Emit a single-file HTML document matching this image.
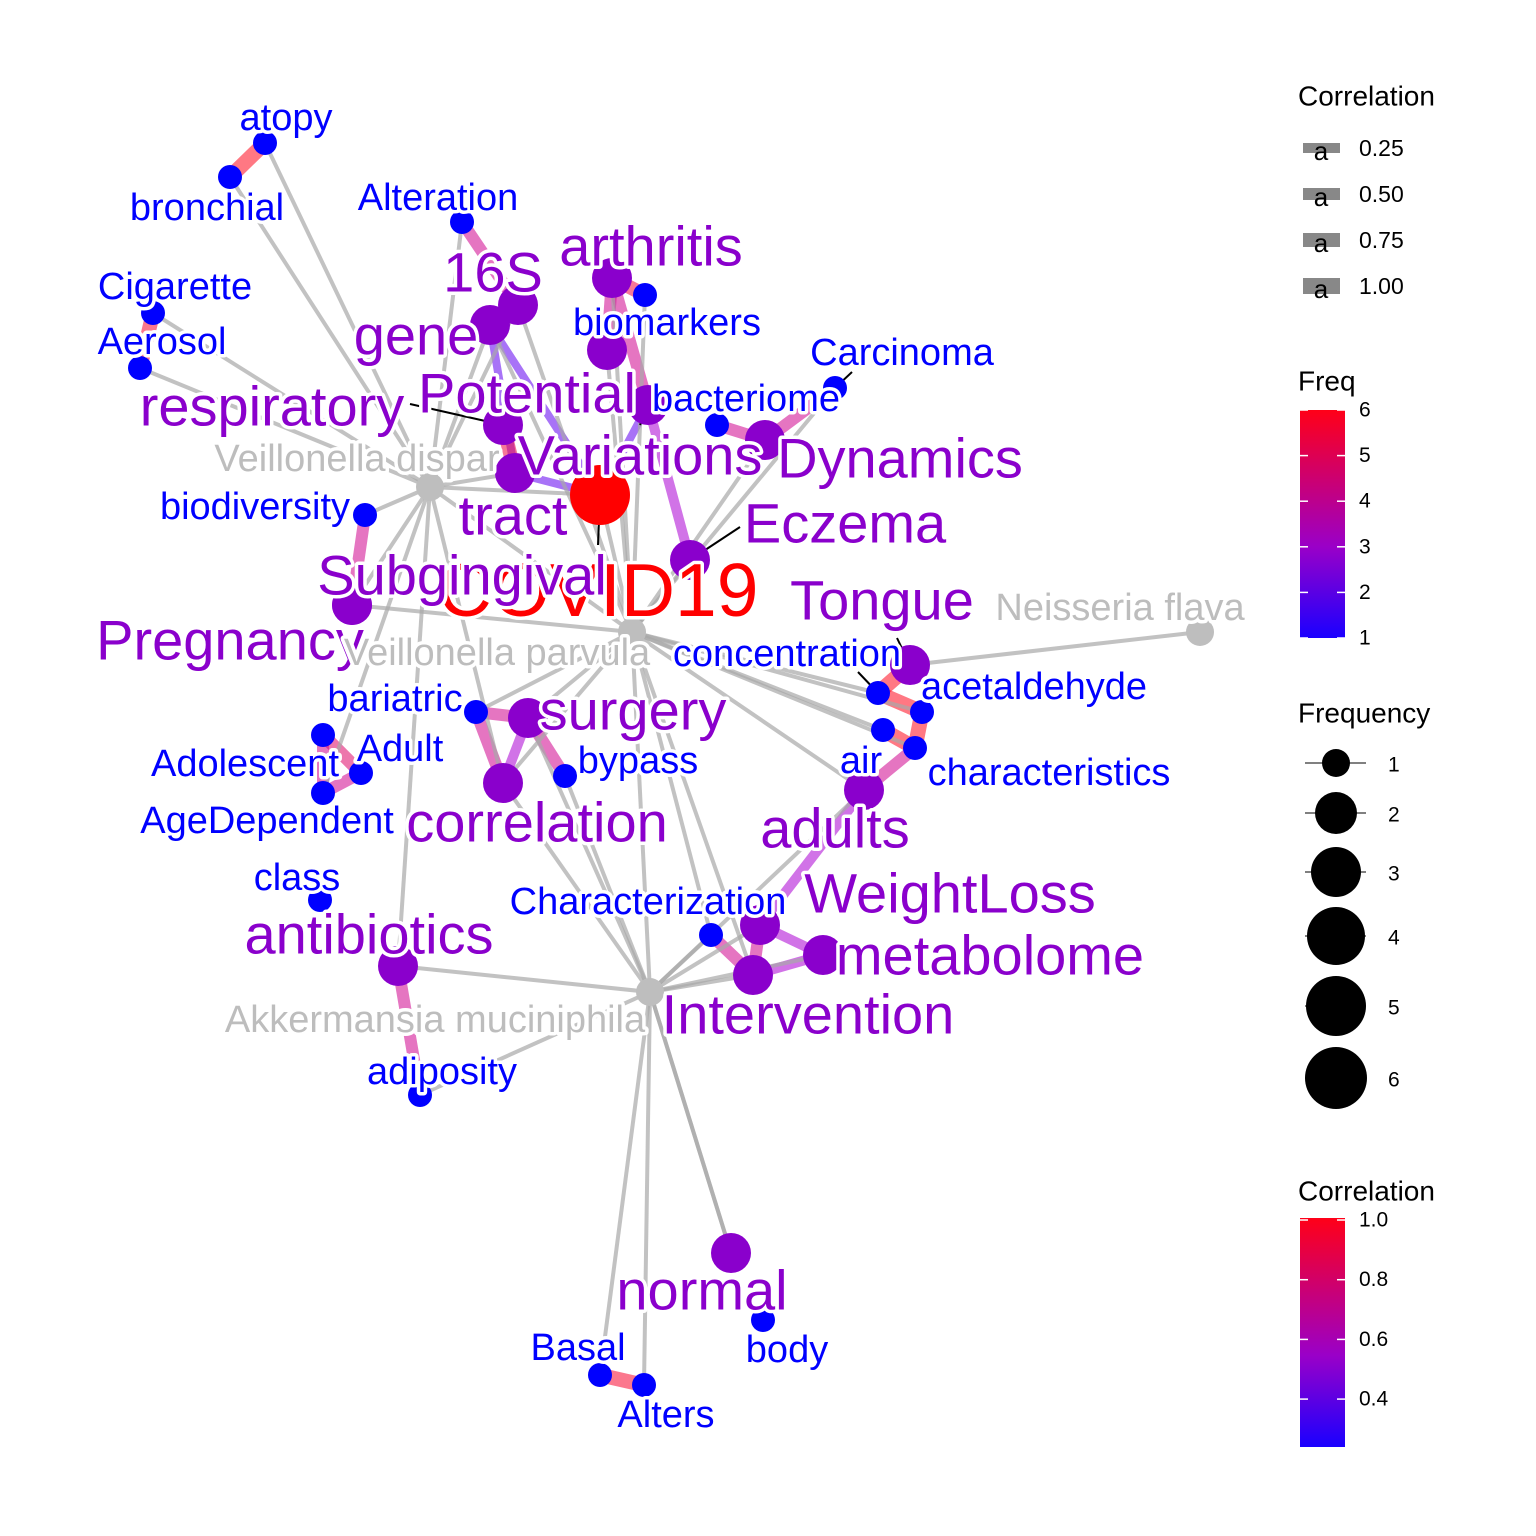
<!DOCTYPE html>
<html><head><meta charset="utf-8"><style>
html,body{margin:0;padding:0;background:#fff;}
svg{display:block;font-family:"Liberation Sans",Arial,sans-serif;}
.lab{paint-order:stroke;stroke:#fff;stroke-width:7px;stroke-linejoin:round;text-anchor:middle;dominant-baseline:central;}
</style></head><body>
<svg id="chart" width="1536" height="1536" viewBox="0 0 1536 1536">
<g id="edges"></g>
<g id="leaders"></g>
<g id="nodes"></g>
<g id="labels"></g>
<g id="legend"></g>
</svg>
<script>
// node data
const nodeNames = ["atopy","bronchial","Alteration","16S","arthritis","biomarkers","Cigarette","Aerosol","gene","Potential","bacteriome","Dynamics","Carcinoma","respiratory","Veillonella dispar","tract","Variations","COVID19","biodiversity","Eczema","Subgingival","Pregnancy","Tongue","Neisseria flava","Veillonella parvula","concentration","acetaldehyde","bariatric","surgery","Adolescent","Adult","AgeDependent","bypass","correlation","air","characteristics","adults","class","WeightLoss","Characterization","antibiotics","metabolome","Intervention","Akkermansia muciniphila","adiposity","normal","body","Basal","Alters"];
const nodeFreq = [1,1,1,2,2,1,1,1,2,2,1,2,1,2,0,2,2,6,1,2,2,2,2,0,0,1,1,1,2,1,1,1,1,2,1,1,2,1,2,1,2,2,2,0,1,2,1,1,1];
const nodeX = [265,230,462,518,612,645,153,140,490,607,717,765,835,503,430,515,648,600,365,690,352,352,910,1200,632,878,922,476,528,323,361,323,565,503,883,915,864,320,760,711,398,823,753,650,420,731,763,600,644];
const nodeY = [143,177,222,305,278,295,313,368,325,350,425,440,388,425,487,473,405,495,515,560,605,605,665,632,632,693,712,712,718,735,773,793,776,783,730,748,790,900,925,935,966,955,975,992,1095,1253,1320,1375,1385];
const labelX = [286,207,438,493,651,667,175,162,416,527,746,900,902,272,357,513,640,598,255,845,462,230,882,1120,497,787,1034,395,633,245,400,267,638,537,861,1049,835,297,950,648,369,990,808,435,442,702,787,578,666];
const labelY = [118,208,198,272,246,323,287,342,335,393,399,458,353,406,459,515,455,590,507,523,575,640,600,608,653,654,687,699,710,764,749,821,761,822,761,773,828,878,893,902,934,955,1014,1020,1072,1290,1350,1348,1415];
// edges: source index, target index, correlation (0 = gray association)
const edgeFrom = [0,6,2,3,8,8,4,4,4,10,11,17,15,13,18,27,28,27,28,29,30,29,25,26,34,35,22,36,38,39,41,38,40,47,19,
 14,14,14,14,14,14,14,14,14,14,14,14,14,14,14,
 24,24,24,24,24,24,24,24,24,24,24,24,24,24,24,24,24,24,24,24,24,
 43,43,43,43,43,43,43,43,43,43,43,43,43,43,23];
const edgeTo = [1,7,3,8,17,15,5,9,16,11,12,16,17,15,20,28,33,33,32,30,31,31,26,35,35,36,25,38,42,42,42,41,44,48,16,
 0,1,6,7,8,3,2,18,20,15,17,24,40,31,33,
 21,3,8,4,9,5,17,11,19,12,25,26,34,35,28,27,33,36,43,39,42,
 40,44,45,45,47,48,42,41,38,39,36,28,33,32,22];
const edgeCorr = [1,0.95,0.7,0.7,0.3,0.3,0.9,0.7,0.7,0.7,0.7,0.3,0.3,0.9,0.7,0.7,0.5,0.7,0.7,0.8,0.7,0.7,1,1,1,0.7,1,0.5,0.7,0.7,0.5,0.5,0.7,0.95,0.5,
 0,0,0,0,0,0,0,0,0,0,0,0,0,0,0,
 0,0,0,0,0,0,0,0,0,0,0,0,0,0,0,0,0,0,0,0,0,
 0,0,0,0,0,0,0,0,0,0,0,0,0,0,0];
// label leader lines: node index
const leaderIdx = [13,16,17,12,19,22,25];
const leaderFrom = [[410,404],[640,425],[598,545],[852,372],[740,527],[897,638],[858,672]];

const NS="http://www.w3.org/2000/svg";
function mk(t,a,p){const e=document.createElementNS(NS,t);for(const k in a)e.setAttribute(k,a[k]);p.appendChild(e);return e;}
function lerp(a,b,t){return a+(b-a)*t;}
function corrColor(c){
  let t=Math.max(0,Math.min(1,(c-0.2)/0.8));
  let r,g,b;
  if(t<0.4){const u=t/0.4;r=lerp(60,180,u);g=0;b=lerp(255,210,u);}
  else{const u=(t-0.4)/0.6;r=lerp(180,255,u);g=lerp(0,10,u);b=lerp(210,30,u);}
  return `rgb(${r|0},${g|0},${b|0})`;
}
function freqColor(f){
  if(f===0)return "#bebebe";
  if(f===1)return "#0000ff";
  if(f>=6)return "#ff0000";
  return "#8a00cc";
}
function radius(f){return f===0?14:(f===1?12:(f>=6?30:20));}
function fsize(f){return f===0?38:(f===1?38:(f>=6?75:56));}
function lcolor(f){return f===0?"#bdbdbd":(f===1?"#0000ff":(f>=6?"#ff0000":"#8a00cc"));}

const gE=document.getElementById('edges');
for(let i=0;i<edgeFrom.length;i++){
  const a=edgeFrom[i],b=edgeTo[i],c=edgeCorr[i];
  const gray=c===0;
  const l=mk('line',{x1:nodeX[a],y1:nodeY[a],x2:nodeX[b],y2:nodeY[b],
    stroke:gray?"#a8a8a8":corrColor(c),'stroke-width':gray?4:(5+c*10),
    'stroke-opacity':gray?0.7:0.55},gE);
  
  
}
const gL=document.getElementById('leaders');
for(let i=0;i<leaderIdx.length;i++){
  const n=leaderIdx[i];
  const l=mk('line',{x1:leaderFrom[i][0],y1:leaderFrom[i][1],x2:nodeX[n],y2:nodeY[n],stroke:"#000",'stroke-width':2},gL);
  
  
}
const gN=document.getElementById('nodes');
for(let i=0;i<nodeNames.length;i++){
  const c=mk('circle',{cx:nodeX[i],cy:nodeY[i],r:radius(nodeFreq[i]),fill:freqColor(nodeFreq[i])},gN);
  
  
}
const gT=document.getElementById('labels');
const order=[...nodeNames.keys()].sort((a,b)=>(nodeFreq[a]===6?-1:0)-(nodeFreq[b]===6?-1:0));
for(const i of order){
  const t=mk('text',{x:labelX[i],y:labelY[i],class:'lab',fill:lcolor(nodeFreq[i]),'font-size':fsize(nodeFreq[i])},gT);
  t.textContent=nodeNames[i];
  
  
}

// legends
const corrTicks=["0.25","0.50","0.75","1.00"];
const freqTicks=["6","5","4","3","2","1"];
const sizeTicks=["1","2","3","4","5","6"];
const corrBarTicks=["1.0","0.8","0.6","0.4"];
const gG=document.getElementById('legend');
let d=document.createElementNS(NS,'defs');gG.appendChild(d);
d.innerHTML='<linearGradient id="gf" x1="0" y1="0" x2="0" y2="1"><stop offset="0" stop-color="#ff0018"/><stop offset="0.6" stop-color="#9a00c8"/><stop offset="1" stop-color="#1a00ff"/></linearGradient>';
function txt(x,y,s,size,name,anchor){const t=mk('text',{x:x,y:y,'font-size':size,fill:'#000','dominant-baseline':'central','text-anchor':anchor||'start'},gG);t.textContent=s;return t;}
txt(1298,96,"Correlation",28,"legend-correlation-width-title");
corrTicks.forEach((s,i)=>{const y=148+i*46;
  const r=mk('rect',{x:1303,y:y-5-i,width:37,height:10+2*i,fill:'#888'},gG);
  
  txt(1321,y+3,"a",26,"legend-key-glyph","middle");
  txt(1359,y,s,23,"legend-width-label");});
txt(1298,381,"Freq",28,"legend-freq-title");
const cb=mk('rect',{x:1300,y:410,width:45,height:228,fill:'url(#gf)'},gG);

freqTicks.forEach((s,i)=>{const y=410+i*45.6;txt(1359,y,s,21,"freq-tick-label");
  mk('line',{x1:1300,x2:1308,y1:y,y2:y,stroke:'#fff','stroke-width':1.5},gG);mk('line',{x1:1337,x2:1345,y1:y,y2:y,stroke:'#fff','stroke-width':1.5},gG);});
txt(1298,713,"Frequency",28,"legend-frequency-title");
const sy=[763,813,872,936,1006,1078],sr=[14,21,25,29,30,31];
sizeTicks.forEach((s,i)=>{mk('line',{x1:1305,x2:1366,y1:sy[i],y2:sy[i],stroke:'#000','stroke-width':1},gG);
  const c=mk('circle',{cx:1336,cy:sy[i],r:sr[i],fill:'#000'},gG);
  txt(1388,sy[i]+2,s,21,"legend-size-label");});
txt(1298,1191,"Correlation",28,"legend-correlation-color-title");
const cb2=mk('rect',{x:1300,y:1218,width:45,height:229,fill:'url(#gf)'},gG);

corrBarTicks.forEach((s,i)=>{const y=1220+i*59.7;txt(1359,y,s,21,"correlation-tick-label");
  mk('line',{x1:1300,x2:1308,y1:y,y2:y,stroke:'#fff','stroke-width':1.5},gG);mk('line',{x1:1337,x2:1345,y1:y,y2:y,stroke:'#fff','stroke-width':1.5},gG);});
</script>
</body></html>
